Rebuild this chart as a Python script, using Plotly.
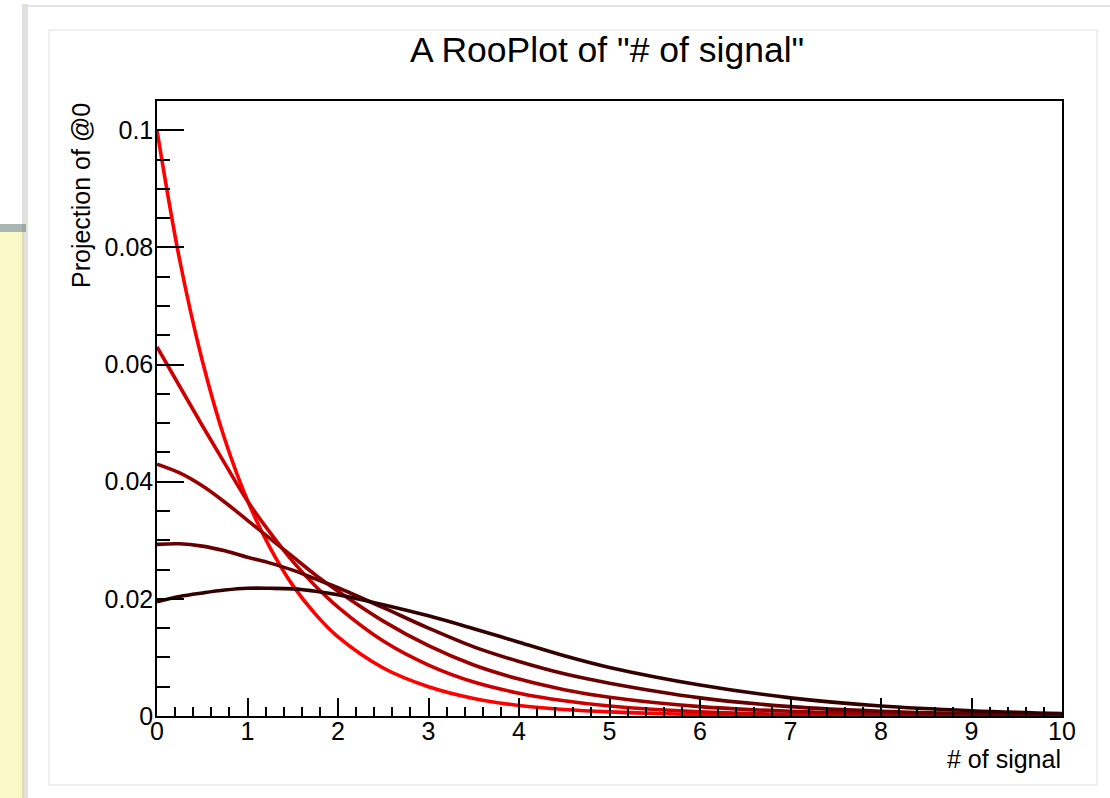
import plotly.graph_objects as go

# ---- data ----
x_vals = [0, 0.25, 0.5, 0.75, 1, 1.25, 1.5, 1.75, 2, 2.5, 3, 3.5, 4, 4.5, 5, 6, 7, 8, 9, 10]

curve_1 = [0.1000, 0.0779, 0.0607, 0.0472, 0.0368, 0.0287, 0.0223, 0.0174, 0.0135, 0.0082,
           0.0050, 0.0030, 0.0018, 0.0011, 0.0007, 0.00025, 0.0001, 0.00004, 0.00002, 0.00001]
curve_2 = [0.0630, 0.0563, 0.0496, 0.0431, 0.0367, 0.0313, 0.0264, 0.0222, 0.0186, 0.0128,
           0.0087, 0.0058, 0.0039, 0.0026, 0.0017, 0.0007, 0.0003, 0.00012, 0.00005, 0.00002]
curve_3 = [0.0430, 0.0415, 0.0393, 0.0365, 0.0334, 0.0303, 0.0272, 0.0241, 0.0213, 0.0162,
           0.0120, 0.0087, 0.0063, 0.0045, 0.0032, 0.0016, 0.0008, 0.0004, 0.0002, 0.0001]
curve_4 = [0.0293, 0.0294, 0.0290, 0.0282, 0.0271, 0.0261, 0.0249, 0.0234, 0.0219, 0.0185,
           0.0150, 0.0118, 0.0093, 0.0072, 0.0056, 0.0031, 0.0016, 0.0008, 0.0004, 0.0002]
curve_5 = [0.0195, 0.0204, 0.0210, 0.0215, 0.0218, 0.0218, 0.0217, 0.0213, 0.0207, 0.0190,
           0.0171, 0.0149, 0.0126, 0.0103, 0.0083, 0.0053, 0.0031, 0.0017, 0.0009, 0.0004]

curves = [curve_1, curve_2, curve_3, curve_4, curve_5]
colors = ["#ff0000", "#cc0000", "#990000", "#660000", "#330000"]

x_tick_vals = [0, 1, 2, 3, 4, 5, 6, 7, 8, 9, 10]
x_tick_text = ["0", "1", "2", "3", "4", "5", "6", "7", "8", "9", "10"]
y_tick_vals = [0, 0.02, 0.04, 0.06, 0.08, 0.1]
y_tick_text = ["0", "0.02", "0.04", "0.06", "0.08", "0.1"]

title_text = 'A RooPlot of "# of signal"'
x_title = "# of signal"
y_title = "Projection of @0"

# ---- figure ----
W, H = 1110, 798
L, R, T, B = 157, 48, 101, 82
PW, PH = W - L - R, H - T - B
FONT = "Liberation Sans, Arial, Helvetica, sans-serif"


def px(xp):
    return (xp - L) / PW


def py(yp):
    return (H - B - yp) / PH


fig = go.Figure()
for ys, c in zip(curves, colors):
    fig.add_trace(go.Scatter(x=x_vals, y=ys, mode="lines",
                             line=dict(color=c, width=3.6, shape="spline", smoothing=1.0),
                             showlegend=False, hoverinfo="skip"))

axis_common = dict(showgrid=False, zeroline=False, showline=True, linecolor="black",
                   linewidth=1.5, mirror=True, ticks="inside", tickcolor="black",
                   tickwidth=1.5, tickfont=dict(family=FONT, size=25, color="black"))

fig.update_xaxes(range=[0, 10], tickmode="array", tickvals=x_tick_vals, ticktext=x_tick_text,
                 ticklen=18, ticklabelstandoff=-8,
                 minor=dict(ticks="inside", dtick=0.2, tick0=0, ticklen=9,
                            tickcolor="black", tickwidth=1.5),
                 **axis_common)
fig.update_yaxes(range=[0, 0.105], tickmode="array", tickvals=y_tick_vals, ticktext=y_tick_text,
                 ticklen=27, ticklabelstandoff=-3,
                 minor=dict(ticks="inside", dtick=0.005, tick0=0, ticklen=13,
                            tickcolor="black", tickwidth=1.5),
                 **axis_common)

shapes = [
    # yellow side panel of the page
    dict(type="rect", xref="paper", yref="paper", x0=px(0), x1=px(24), y0=py(798), y1=py(232),
         fillcolor="#fcf9c8", line=dict(width=0), layer="below"),
    # grey bar on the side panel
    dict(type="rect", xref="paper", yref="paper", x0=px(0), x1=px(26), y0=py(232), y1=py(224),
         fillcolor="#a9b6b4", line=dict(width=0), layer="below"),
    # vertical shadow
    dict(type="rect", xref="paper", yref="paper", x0=px(22), x1=px(28), y0=py(798), y1=py(4),
         fillcolor="rgba(120,120,100,0.22)", line=dict(width=0), layer="below"),
    # top border line
    dict(type="line", xref="paper", yref="paper", x0=px(28), x1=px(1110), y0=py(6), y1=py(6),
         line=dict(color="#e4e4e4", width=2), layer="below"),
    # inner panel border
    dict(type="rect", xref="paper", yref="paper", x0=px(49), x1=px(1097), y0=py(785), y1=py(30),
         line=dict(color="#ececec", width=1.5), fillcolor="rgba(0,0,0,0)", layer="below"),
]

annotations = [
    dict(text=y_title, xref="paper", yref="paper", x=px(81), y=py(196), xanchor="center",
         yanchor="middle", textangle=-90, showarrow=False,
         font=dict(family=FONT, size=25, color="black")),
    dict(text=x_title, xref="paper", yref="paper", x=px(1063), y=py(759), xanchor="right",
         yanchor="middle", showarrow=False,
         font=dict(family=FONT, size=25, color="black")),
]

fig.update_layout(
    width=W, height=H,
    margin=dict(l=L, r=R, t=T, b=B, autoexpand=False),
    paper_bgcolor="white", plot_bgcolor="white",
    title=dict(text=title_text, x=px(607), xanchor="center", xref="paper",
               y=1 - 50 / H, yanchor="middle", yref="container",
               font=dict(family=FONT, size=35.5, color="black")),
    shapes=shapes, annotations=annotations,
)

fig.write_html("out.html", config={"displayModeBar": False},
               post_script="document.body.style.margin='0';document.body.style.overflow='hidden';")
